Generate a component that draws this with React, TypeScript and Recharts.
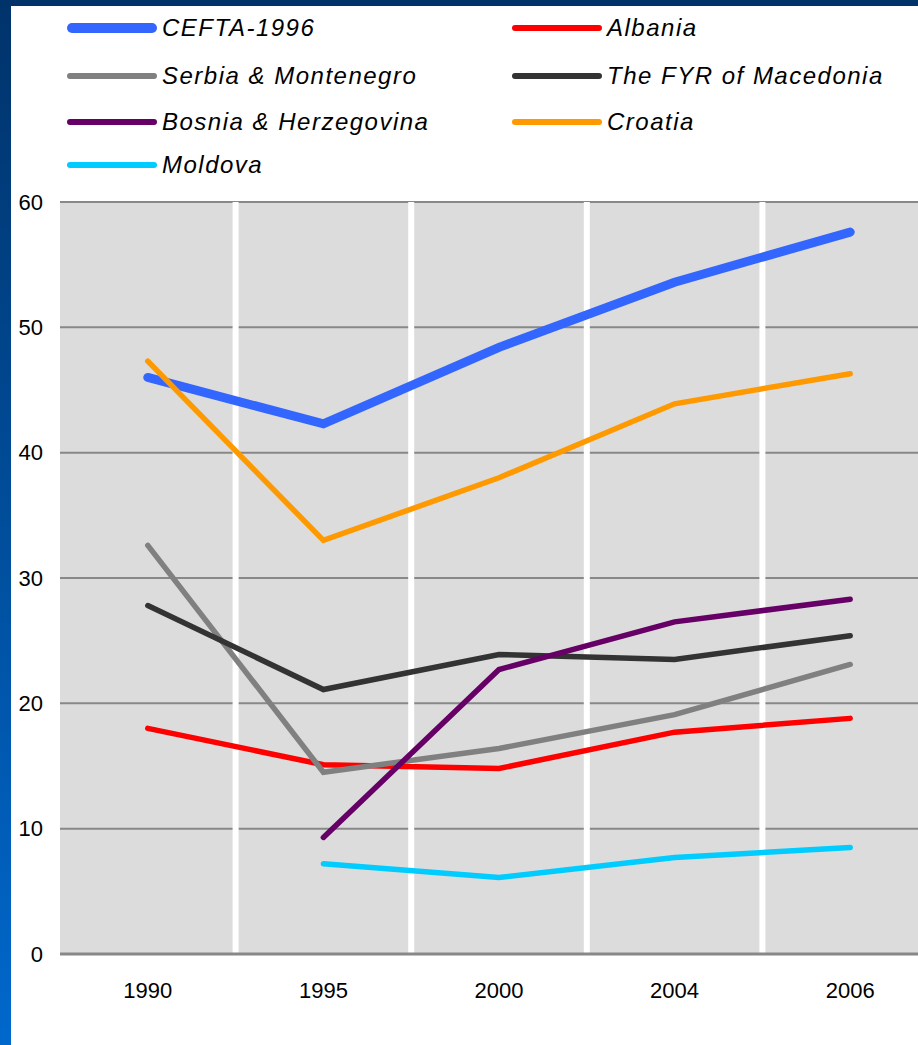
import { LineChart, Line, XAxis, YAxis, CartesianGrid, ReferenceLine } from "recharts";

const years = ["1990", "1995", "2000", "2004", "2006"];
const cefta = [46.0, 42.3, 48.4, 53.6, 57.6];
const albania = [18.0, 15.1, 14.8, 17.7, 18.8];
const serbia = [32.6, 14.5, 16.4, 19.1, 23.1];
const macedonia = [27.8, 21.1, 23.9, 23.5, 25.4];
const bosnia = [null, 9.3, 22.7, 26.5, 28.3];
const croatia = [47.3, 33.0, 38.0, 43.9, 46.3];
const moldova = [null, 7.2, 6.1, 7.7, 8.5];
const yTicks = [0, 10, 20, 30, 40, 50, 60];

const series = [
    { key: "cefta", name: "CEFTA-1996", values: cefta, color: "#3366ff", width: 9 },
    { key: "albania", name: "Albania", values: albania, color: "#ff0000", width: 5.5 },
    { key: "serbia", name: "Serbia & Montenegro", values: serbia, color: "#808080", width: 5.5 },
    { key: "macedonia", name: "The FYR of Macedonia", values: macedonia, color: "#333333", width: 5.5 },
    { key: "bosnia", name: "Bosnia & Herzegovina", values: bosnia, color: "#660066", width: 5.5 },
    { key: "croatia", name: "Croatia", values: croatia, color: "#ff9900", width: 5.5 },
    { key: "moldova", name: "Moldova", values: moldova, color: "#00ccff", width: 5.5 },
];

const data = years.map((year, i) => {
    const row: Record<string, any> = { year };
    series.forEach((s) => {
        row[s.key] = s.values[i];
    });
    return row;
});

const legendRows = [28, 76, 122, 165];
const legendCols = [67, 512];

function LegendBlock() {
    return (
        <>
            {series.map((s, i) => (
                <div
                    key={s.key}
                    style={{
                        position: "absolute",
                        left: legendCols[i % 2],
                        top: legendRows[Math.floor(i / 2)] - 20,
                        height: 40,
                        display: "flex",
                        alignItems: "center",
                        whiteSpace: "nowrap",
                    }}
                >
                    <div
                        style={{
                            width: 90,
                            height: s.key === "cefta" ? 10 : 6.5,
                            borderRadius: 5,
                            background: s.color,
                            marginRight: 5,
                        }}
                    />
                    <span style={{ fontSize: 24, fontStyle: "italic", letterSpacing: 1.5, color: "#000" }}>
                        {s.name}
                    </span>
                </div>
            ))}
        </>
    );
}

export default function App() {
    return (
        <div
            style={{
                position: "absolute",
                left: 0,
                top: 0,
                width: 918,
                height: 1045,
                overflow: "hidden",
                background: "linear-gradient(to bottom, #00336a, #0068cc)",
                fontFamily: "'Liberation Sans', Arial, sans-serif",
            }}
        >
            <div style={{ position: "absolute", left: 11, top: 6, right: 0, bottom: 0, background: "#fff" }} />
            <LegendBlock />
            <div style={{ position: "absolute", left: 0, top: 0 }}>
                <LineChart width={938} height={1045} data={data} margin={{ top: 202, right: 0, bottom: 0, left: 0 }}>
                    <CartesianGrid vertical={false} stroke="#888" strokeWidth={2} fill="#dcdcdc" fillOpacity={1} />
                    {years.slice(1).map((y) => (
                        <ReferenceLine key={y} x={y} position="start" stroke="#fff" strokeWidth={6} />
                    ))}
                    <XAxis
                        dataKey="year"
                        scale="band"
                        interval={0}
                        tickLine={false}
                        tickSize={0}
                        tickMargin={28}
                        height={91}
                        axisLine={{ stroke: "#888", strokeWidth: 3 }}
                        tick={{ fill: "#000", fontSize: 22 }}
                    />
                    <YAxis
                        domain={[0, 60]}
                        ticks={yTicks}
                        width={60}
                        axisLine={false}
                        tickLine={false}
                        tickSize={0}
                        tickMargin={17}
                        tick={{ fill: "#000", fontSize: 22 }}
                    />
                    {series.map((s) => (
                        <Line
                            key={s.key}
                            dataKey={s.key}
                            name={s.name}
                            type="linear"
                            stroke={s.color}
                            strokeWidth={s.width}
                            strokeLinecap="round"
                            dot={false}
                            activeDot={false}
                            isAnimationActive={false}
                        />
                    ))}
                </LineChart>
            </div>
        </div>
    );
}
